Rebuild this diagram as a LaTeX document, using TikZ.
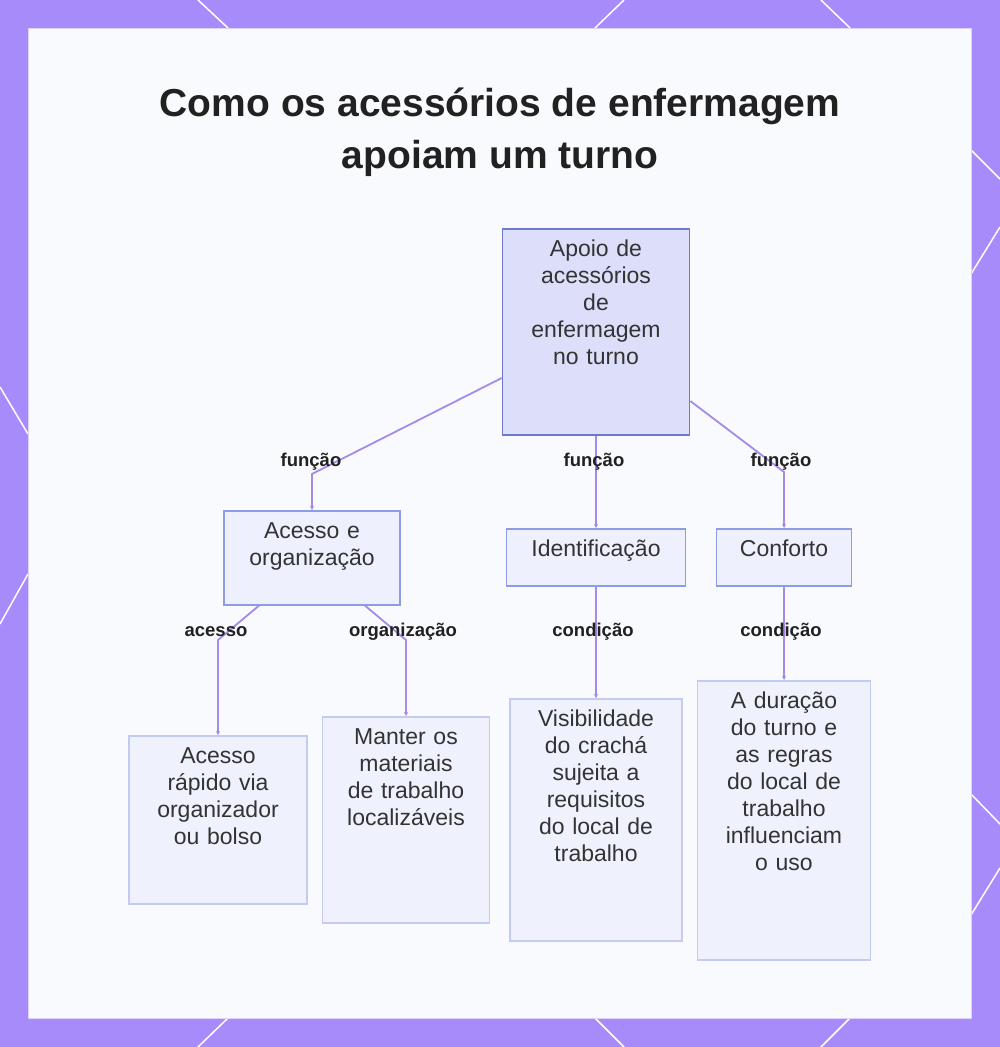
\documentclass[tikz,border=0pt]{standalone}
\usepackage{fontspec}
\setmainfont{Liberation Sans}
\usepackage{tikz}
\usetikzlibrary{arrows.meta}

\definecolor{framepurple}{HTML}{A78BFA}
\definecolor{panelbg}{HTML}{F9FAFD}
\definecolor{panelline}{HTML}{DCD2FB}
\definecolor{rootfill}{HTML}{DCDEFA}
\definecolor{rootline}{HTML}{6F78CC}
\definecolor{midfill}{HTML}{EEF1FD}
\definecolor{midline}{HTML}{8C9DE4}
\definecolor{leaffill}{HTML}{EFF2FD}
\definecolor{leafline}{HTML}{C3CBF3}
\definecolor{edgecol}{HTML}{A48BE8}
\definecolor{inkcol}{HTML}{333333}

\begin{document}
\begin{tikzpicture}[
    x=1pt, y=-1pt,
    box/.style={rectangle, draw, line width=1.6pt, anchor=north, align=center, inner xsep=4pt, inner ysep=0pt, text height=28pt, font=\fontsize{23}{27}\selectfont, text=inkcol},
    rootbox/.style={box, fill=rootfill, draw=rootline},
    midbox/.style={box, fill=midfill, draw=midline},
    leafbox/.style={box, fill=leaffill, draw=leafline},
    lbl/.style={font=\bfseries\fontsize{18.5}{22}\selectfont, text=black!87},
    title/.style={font=\bfseries\fontsize{39}{52}\selectfont, align=center, text=black!87},
    edge/.style={draw=edgecol, line width=1.8pt, -{Stealth[length=4pt,width=4pt]}},
    deco/.style={white, line width=1.5pt}
]
    \useasboundingbox (0,0) rectangle (1000,1047);

    % Frame
    \fill[framepurple] (0,0) rectangle (1000,1047);
    \draw[deco] (198,0) -- (228,28);
    \draw[deco] (624,0) -- (595,28);
    \draw[deco] (821,0) -- (850,28);
    \draw[deco] (228,1018) -- (198,1047);
    \draw[deco] (595,1018) -- (624,1047);
    \draw[deco] (850,1018) -- (821,1047);
    \draw[deco] (0,387) -- (28,434);
    \draw[deco] (28,574) -- (0,624);
    \draw[deco] (971,150) -- (1000,179);
    \draw[deco] (1000,227) -- (971,274);
    \draw[deco] (971,794) -- (1000,824);
    \draw[deco] (1000,868) -- (971,915);
    \filldraw[fill=panelbg, draw=panelline, line width=0.8pt] (28,28) rectangle (971,1018);

    % Title
    \node[title] (title) at (500,132) {Como os acessórios de enfermagem\\apoiam um turno};

    % Root
    \node[rootbox, text width=179pt, text depth=178pt] (root) at (596,228) {Apoio de\\acessórios\\de\\enfermagem\\no turno};

    % Functions
    \node[midbox, text width=168pt, text depth=66pt] (acc) at (312,510) {Acesso e\\organização};
    \node[midbox, text width=171pt, text depth=29pt] (ident) at (596,528) {Identificação};
    \node[midbox, text width=127pt, text depth=29pt] (comf) at (784,528) {Conforto};

    % Details
    \node[leafbox, text width=170pt, text depth=140pt] (quick) at (218,735) {Acesso\\rápido via\\organizador\\ou bolso};
    \node[leafbox, text width=159pt, text depth=178pt] (keep) at (406,716) {Manter os\\materiais\\de trabalho\\localizáveis};
    \node[leafbox, text width=164pt, text depth=214pt] (badge) at (596,698) {Visibilidade\\do crachá\\sujeita a\\requisitos\\do local de\\trabalho};
    \node[leafbox, text width=165pt, text depth=251pt] (rules) at (784,680) {A duração\\do turno e\\as regras\\do local de\\trabalho\\influenciam\\o uso};

    % Arrows
    \draw[edge] (root.west |- 0,378) -- (acc.north |- 0,474) -- (acc);
    \draw[edge] (root) -- (ident);
    \draw[edge] (root.east |- 0,401) -- (comf.north |- 0,472) -- (comf);
    \draw[edge] (acc.south -| 259,0) -- (quick.north |- 0,640) -- (quick);
    \draw[edge] (acc.south -| 365,0) -- (keep.north |- 0,640) -- (keep);
    \draw[edge] (ident) -- (badge);
    \draw[edge] (comf) -- (rules);

    % Labels
    \node[lbl] (fn1) at (311,462) {função};
    \node[lbl] (fn2) at (594,462) {função};
    \node[lbl] (fn3) at (781,462) {função};
    \node[lbl] (lacc) at (216,632) {acesso};
    \node[lbl] (lorg) at (403,632) {organização};
    \node[lbl] (cond1) at (593,632) {condição};
    \node[lbl] (cond2) at (781,632) {condição};

\end{tikzpicture}
\end{document}
